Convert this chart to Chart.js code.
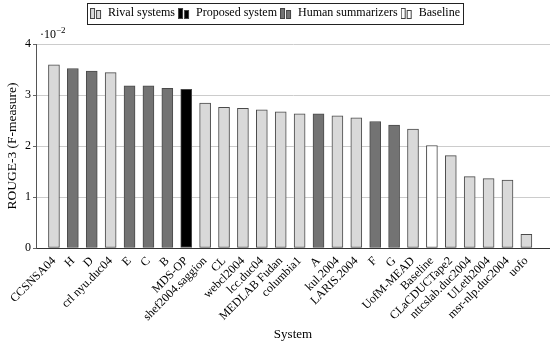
<!DOCTYPE html>
<html>
<head>
<meta charset="utf-8">
<script src="https://cdn.jsdelivr.net/npm/chart.js@4/dist/chart.umd.min.js"></script>
<style>
  html, body { margin: 0; padding: 0; background: #fff; }
</style>
</head>
<body>
<canvas id="c" width="550" height="345"></canvas>
<script>
// systems, in plot order
const systems = ["CCSNSA04", "H", "D", "crl nyu.duc04", "E", "C", "B", "MDS-OP",
  "shef2004.saggion", "CL", "webcl2004", "lcc.duc04", "MEDLAB Fudan", "columbia1",
  "A", "kul.2004", "LARIS.2004", "F", "G", "UofM-MEAD", "Baseline", "CLaCDUCTape2",
  "nttcslab.duc2004", "ULeth2004", "msr-nlp.duc2004", "uofo"];
// ROUGE-3 F-measure, in units of 10^-2
const rouge3 = [3.59, 3.52, 3.47, 3.44, 3.18, 3.18, 3.13, 3.11,
  2.84, 2.76, 2.74, 2.71, 2.67, 2.63,
  2.63, 2.59, 2.55, 2.48, 2.41, 2.33, 2.01, 1.81,
  1.40, 1.36, 1.33, 0.27];
// group of each system
const kind = ["rival", "human", "human", "rival", "human", "human", "human", "proposed",
  "rival", "rival", "rival", "rival", "rival", "rival",
  "human", "rival", "rival", "human", "human", "rival", "baseline", "rival",
  "rival", "rival", "rival", "rival"];

const groups = ["rival", "proposed", "human", "baseline"];
const groupNames = ["Rival systems", "Proposed system", "Human summarizers", "Baseline"];
const groupColors = ["#d9d9d9", "#000000", "#737373", "#ffffff"];

const serif = "'Liberation Serif', 'DejaVu Serif', serif";

// little two-bar legend icon like pgfplots
function barIcon(fill) {
  const cv = document.createElement("canvas");
  cv.width = 12; cv.height = 12;
  const g = cv.getContext("2d");
  g.fillStyle = fill;
  g.strokeStyle = "#444";
  g.lineWidth = 1;
  g.fillRect(0.5, 1.5, 4, 10); g.strokeRect(0.5, 1.5, 4, 10);
  g.fillRect(6.5, 3.5, 4, 8); g.strokeRect(6.5, 3.5, 4, 8);
  return cv;
}

const datasets = groups.map((grp, gi) => ({
  label: groupNames[gi],
  data: systems.map((s, i) => ({ x: i, y: rouge3[i] })).filter((p, i) => kind[i] === grp),
  backgroundColor: groupColors[gi],
  borderColor: "#4a4a4a",
  borderWidth: 1,
  borderSkipped: false,
  barThickness: 11,
  grouped: false,
  pointStyle: barIcon(groupColors[gi])
}));

const extras = {
  id: "extras",
  afterInit(chart) {
    // leave room between the legend and the plot
    const lg = chart.legend;
    const fit = lg.fit;
    lg.fit = function () { fit.call(this); this.height = 40; };
  },
  afterDraw(chart) {
    const ctx = chart.ctx;
    const lg = chart.legend;
    const boxes = lg.legendHitBoxes;
    if (boxes && boxes.length) {
      const l = Math.min(...boxes.map(b => b.left)) - 3;
      const r = Math.max(...boxes.map(b => b.left + b.width)) + 3;
      ctx.save();
      ctx.strokeStyle = "#222";
      ctx.lineWidth = 1;
      ctx.strokeRect(Math.round(l) + 0.5, 3.5, Math.round(r - l), 21);
      ctx.restore();
    }
    // exponent label above the y axis
    const a = chart.chartArea;
    ctx.save();
    ctx.fillStyle = "#000";
    ctx.textBaseline = "alphabetic";
    ctx.font = "12px " + serif;
    ctx.fillText("\u00b710", a.left + 4, a.top - 6);
    const w = ctx.measureText("\u00b710").width;
    ctx.font = "9px " + serif;
    ctx.fillText("\u22122", a.left + 4 + w, a.top - 11);
    ctx.restore();
  }
};

new Chart(document.getElementById("c"), {
  type: "bar",
  data: { datasets: datasets },
  plugins: [extras],
  options: {
    responsive: false,
    devicePixelRatio: 1,
    animation: false,
    layout: { padding: { top: 4, right: 0, left: 0, bottom: 0 } },
    plugins: {
      legend: {
        position: "top",
        labels: {
          usePointStyle: true,
          font: { family: serif, size: 12 },
          color: "#000",
          padding: 3,
          boxWidth: 12
        }
      },
      tooltip: { enabled: false }
    },
    scales: {
      x: {
        type: "linear",
        offset: false,
        min: -0.95,
        max: 26.25,
        afterBuildTicks(scale) { scale.ticks = systems.map((s, i) => ({ value: i })); },
        afterFit(scale) { scale.height = 97; },
        ticks: {
          autoSkip: false,
          minRotation: 45,
          maxRotation: 45,
          padding: 3,
          color: "#000",
          font: { family: serif, size: 12 },
          callback: (v) => systems[v]
        },
        grid: { display: false, drawTicks: true, tickLength: 3 },
        border: { color: "#333", width: 1 },
        title: {
          display: true,
          text: "System",
          color: "#000",
          font: { family: serif, size: 13 },
          padding: { top: 0, bottom: 3 }
        }
      },
      y: {
        min: 0,
        max: 4,
        afterFit(scale) { scale.width = 36; },
        ticks: {
          stepSize: 1,
          padding: 2,
          color: "#000",
          font: { family: serif, size: 12 }
        },
        grid: { color: "#cccccc", tickLength: 3, tickColor: "#666" },
        border: { color: "#555", width: 1 },
        title: {
          display: true,
          text: "ROUGE-3 (F-measure)",
          color: "#000",
          font: { family: serif, size: 13.5 },
          padding: { top: 4, bottom: 0 }
        }
      }
    }
  }
});
</script>
</body>
</html>
